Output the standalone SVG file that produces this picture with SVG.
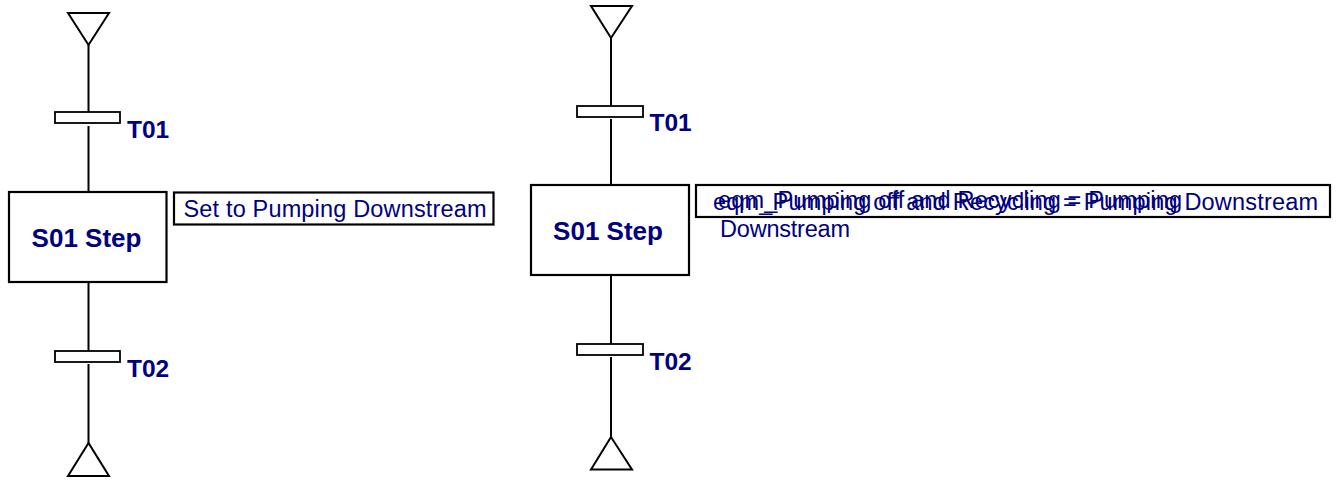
<svg xmlns="http://www.w3.org/2000/svg" width="1336" height="480" viewBox="0 0 1336 480">
  <style>
    .wire { stroke: #000; stroke-width: 2; fill: none; }
    .term { stroke: #000; stroke-width: 2; fill: #fff; stroke-linejoin: miter; }
    .bar { stroke: #000; stroke-width: 1.8; fill: #fff; }
    .step { stroke: #000; stroke-width: 2.2; fill: #fff; }
    .action { stroke: #000; stroke-width: 2.2; fill: #fff; }
    .lbl { font-family: "Liberation Sans", Arial, sans-serif; font-weight: bold; fill: #000080; }
    .tlbl { font-size: 24.5px; }
    .slbl { font-size: 26px; }
    .act { font-family: "Liberation Sans", Arial, sans-serif; font-size: 23.5px; fill: #000080; }
  </style>

  <!-- connectors -->
  <g id="connectors">
    <line class="wire" x1="88.5" y1="45" x2="88.5" y2="112"/>
    <line class="wire" x1="88.5" y1="126" x2="88.5" y2="192"/>
    <line class="wire" x1="88.5" y1="282" x2="88.5" y2="351"/>
    <line class="wire" x1="88.5" y1="364" x2="88.5" y2="443"/>

    <line class="wire" x1="611" y1="38" x2="611" y2="106"/>
    <line class="wire" x1="611" y1="119" x2="611" y2="185"/>
    <line class="wire" x1="611" y1="275" x2="611" y2="344"/>
    <line class="wire" x1="611" y1="357" x2="611" y2="437"/>
  </g>

  <!-- left sequence -->
  <g id="left-entry">
    <polygon class="term" points="68,13 109,13 88.5,45"/>
  </g>
  <g id="left-T01">
    <rect class="bar" x="55" y="112" width="65" height="11"/>
    <text class="lbl tlbl" x="127" y="138">T01</text>
  </g>
  <g id="left-S01">
    <rect class="step" x="9" y="192" width="157.5" height="90"/>
    <text class="lbl slbl" x="86.5" y="247" text-anchor="middle">S01 Step</text>
  </g>
  <g id="left-S01-action">
    <rect class="action" x="174" y="192.5" width="319.5" height="32"/>
    <text class="act" x="183.5" y="217" textLength="303">Set to Pumping Downstream</text>
  </g>
  <g id="left-T02">
    <rect class="bar" x="55" y="351" width="65" height="11"/>
    <text class="lbl tlbl" x="127" y="377">T02</text>
  </g>
  <g id="left-exit">
    <polygon class="term" points="88.5,443 68,476 109,476"/>
  </g>

  <!-- right sequence -->
  <g id="right-entry">
    <polygon class="term" points="591,6 632,6 611,38"/>
  </g>
  <g id="right-T01">
    <rect class="bar" x="577" y="106" width="66" height="11"/>
    <text class="lbl tlbl" x="649.5" y="131">T01</text>
  </g>
  <g id="right-S01">
    <rect class="step" x="531" y="185" width="158" height="90"/>
    <text class="lbl slbl" x="608" y="240" text-anchor="middle">S01 Step</text>
  </g>
  <g id="right-S01-action">
    <rect class="action" x="696" y="185" width="634" height="32"/>
    <text class="act" x="713" y="209.5" textLength="605">eqm_Pumping off and Recycling = Pumping Downstream</text>
    <text class="act" x="718" y="207.5" textLength="464">eqm_Pumping off and Recycling = Pumping</text>
    <text class="act" x="720" y="237" textLength="130">Downstream</text>
  </g>
  <g id="right-T02">
    <rect class="bar" x="577" y="344" width="66" height="11"/>
    <text class="lbl tlbl" x="649.5" y="370">T02</text>
  </g>
  <g id="right-exit">
    <polygon class="term" points="611,437 591,469.5 632,469.5"/>
  </g>
</svg>
